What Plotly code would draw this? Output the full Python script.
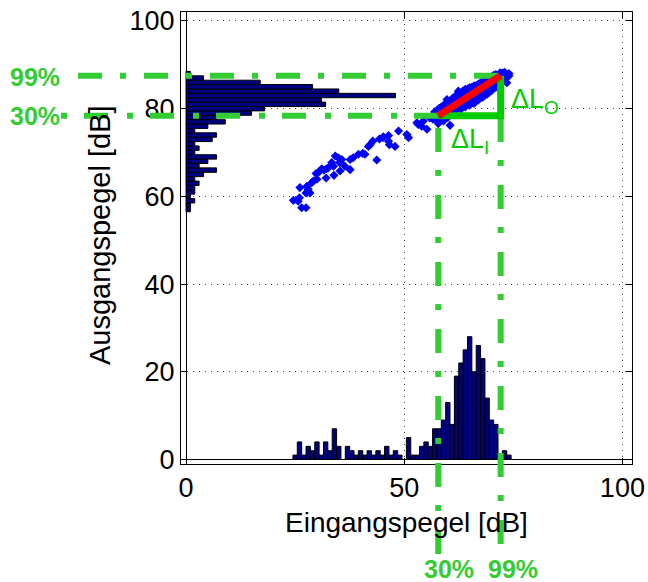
import plotly.graph_objects as go

# ---------------- data ----------------
# input-level histogram (Eingangspegel), 1 dB bins
in_levels = list(range(25, 75))
in_counts = [1, 4, 1, 3, 2, 4, 1, 4, 2, 7, 3, 0, 3, 2, 1, 2, 1, 2, 1, 2,
             1, 3, 1, 2, 1, 0, 5, 1, 1, 3, 4, 3, 7, 7, 9, 13, 8, 19, 22, 25,
             28, 20, 26, 23, 14, 9, 8, 1, 2, 1]
# output-level histogram (Ausgangspegel), 1 dB bins
out_levels = list(range(57, 89))
out_counts = [1, 1, 2, 1, 2, 2, 3, 2, 4, 7, 3, 5, 7, 2, 3, 2, 6, 7, 2, 5,
              9, 7, 15, 18, 32, 31, 48, 35, 29, 17, 4, 1]

# input/output level pairs (scatter)
scatter_in = [24.6, 25.7, 26.0, 26.5, 27.5, 26.1, 27.5, 28.0, 28.4, 27.7, 28.8, 29.2, 29.8, 30.0,
              31.1, 32.1, 32.2, 32.6, 33.4, 33.8, 33.9, 34.2, 34.9, 35.3, 35.7, 35.2, 36.4, 37.6,
              37.6, 38.3, 39.5, 40.5, 41.0, 42.2, 42.8, 43.7, 44.3, 45.2, 46.4, 46.6, 45.1, 46.4,
              48.7, 51.0, 50.6, 52.9, 54.0, 55.2, 54.4, 55.9, 60.5, 59.0, 59.8, 62.4, 47.9, 57.8,
              53.2, 41.8, 30.5, 31.6,
              56.6, 56.6, 57.0, 57.0, 57.0, 57.5, 57.5, 57.5, 58.0, 58.0, 58.0, 58.5, 58.5, 58.5,
              59.0, 59.0, 59.0, 59.0, 59.5, 59.5, 59.5, 60.0, 60.0, 60.0, 60.0, 60.5, 60.5, 60.5,
              61.0, 61.0, 61.0, 61.0, 61.5, 61.5, 61.5, 61.5, 62.0, 62.0, 62.0, 62.0, 62.5, 62.5,
              62.5, 62.5, 63.0, 63.0, 63.0, 63.0, 63.5, 63.5, 63.5, 63.5, 64.0, 64.0, 64.0, 64.0,
              64.0, 64.5, 64.5, 64.5, 64.5, 65.0, 65.0, 65.0, 65.0, 65.0, 65.5, 65.5, 65.5, 65.5,
              66.0, 66.0, 66.0, 66.0, 66.0, 66.5, 66.5, 66.5, 66.5, 67.0, 67.0, 67.0, 67.0, 67.5,
              67.5, 67.5, 67.5, 68.0, 68.0, 68.0, 68.0, 68.5, 68.5, 68.5, 68.5, 69.0, 69.0, 69.0,
              69.0, 69.5, 69.5, 69.5, 69.5, 70.0, 70.0, 70.0, 70.0, 70.5, 70.5, 70.5, 70.5, 71.0,
              71.0, 71.0, 71.0, 71.5, 71.5, 71.5, 72.0, 72.0, 72.0, 72.0, 72.5, 72.5, 72.5, 73.0,
              73.0, 73.0, 73.5, 73.5, 73.5, 74.0, 74.0]
scatter_out = [59.1, 58.9, 59.7, 57.4, 57.4, 62.0, 60.8, 61.6, 60.8, 62.3, 63.1, 63.5, 65.2, 63.9,
               66.3, 64.2, 66.3, 66.5, 67.7, 66.9, 64.8, 69.2, 68.8, 65.8, 68.4, 67.7, 66.9, 66.1,
               68.4, 68.8, 69.6, 69.8, 69.6, 71.8, 72.6, 68.3, 73.1, 73.6, 73.9, 71.8, 73.4, 72.6,
               74.9, 73.4, 74.1, 76.8, 76.0, 75.3, 77.2, 77.9, 76.2, 77.2, 82.1, 84.0, 71.4, 76.6,
               76.4, 71.4, 65.6, 66.0,
               77.6, 78.6, 77.9, 78.8, 79.3, 77.4, 78.3, 79.6, 77.8, 78.9, 80.1, 78.2, 79.3, 80.4,
               77.6, 78.7, 79.8, 80.8, 78.4, 79.5, 81.0, 78.0, 79.2, 80.3, 81.5, 78.9, 80.0, 81.2,
               79.4, 80.6, 81.8, 82.3, 79.1, 80.3, 81.5, 82.6, 79.8, 81.0, 82.2, 83.1, 80.2, 81.4,
               82.6, 83.5, 79.9, 81.1, 82.3, 83.6, 80.6, 81.8, 83.0, 84.1, 80.4, 81.5, 82.7, 83.8,
               84.4, 81.0, 82.2, 83.3, 84.5, 80.8, 81.9, 83.0, 84.1, 84.8, 81.4, 82.6, 83.7, 84.9,
               81.2, 82.3, 83.4, 84.6, 85.2, 81.8, 82.9, 84.0, 85.3, 82.0, 83.2, 84.4, 85.6, 82.5,
               83.6, 84.8, 85.9, 82.6, 83.8, 85.0, 86.2, 83.1, 84.3, 85.5, 86.6, 83.3, 84.6, 85.8,
               86.8, 83.8, 85.0, 86.2, 87.1, 84.1, 85.3, 86.5, 87.3, 84.7, 85.8, 86.9, 87.6, 84.9,
               86.1, 87.2, 87.8, 85.5, 86.6, 87.6, 85.7, 86.8, 87.9, 88.2, 86.2, 87.3, 88.1, 86.6,
               87.6, 88.3, 85.9, 87.0, 87.8, 87.5, 88.0]

# percentiles (dB)
in_p30, in_p99 = 57.8, 72.1
out_p30, out_p99 = 78.4, 87.5

x_ticks = [0, 50, 100]
y_ticks = [0, 20, 40, 60, 80, 100]

# ---------------- layout geometry / styles ----------------
W, H = 648, 582
PL, PR, PT, PB = 181, 632, 12, 464
X_RANGE = [-1.15, 102.2]
Y_RANGE = [-1.03, 102.05]
sx = (PR - PL) / (X_RANGE[1] - X_RANGE[0])
sy = (PB - PT) / (Y_RANGE[1] - Y_RANGE[0])
X2_RANGE = [X_RANGE[0] - PL / sx, X_RANGE[1] + (W - PR) / sx]
Y2_RANGE = [Y_RANGE[0] - (H - PB) / sy, Y_RANGE[1] + PT / sy]


def x_at(px):
    return X2_RANGE[0] + px / sx


def y_at(py):
    return Y2_RANGE[1] - py / sy


FONT = "Liberation Sans, Arial, sans-serif"
GREEN_D = "#33cc33"
GREEN_S = "#00cc00"
BAR_FILL = "#000080"

fig = go.Figure()

fig.add_trace(go.Bar(x=in_levels, y=in_counts, width=1, orientation="v",
                     marker=dict(color=BAR_FILL, line=dict(color="black", width=1))))
fig.add_trace(go.Bar(x=out_counts, y=out_levels, width=1, orientation="h",
                     marker=dict(color=BAR_FILL, line=dict(color="black", width=1))))
fig.add_trace(go.Scatter(x=scatter_in, y=scatter_out, mode="markers",
                         marker=dict(symbol="diamond", size=7, color="#0000ff",
                                     line=dict(width=0))))

# overlay lines (full-figure axes)
dash_h99 = "24px,18px,6px,18px"
dash_h30 = "6px,17px,24px,19px"
dash_v = "24px,19px,6px,18px"
ov = dict(xaxis="x2", yaxis="y2", mode="lines", hoverinfo="skip")
fig.add_trace(go.Scatter(x=[x_at(78), in_p99], y=[out_p99, out_p99],
                         line=dict(color=GREEN_D, width=6, dash=dash_h99), **ov))
fig.add_trace(go.Scatter(x=[x_at(61), in_p30], y=[out_p30, out_p30],
                         line=dict(color=GREEN_D, width=6, dash=dash_h30), **ov))
fig.add_trace(go.Scatter(x=[in_p30, in_p30], y=[y_at(554), out_p30],
                         line=dict(color=GREEN_D, width=6, dash=dash_v), **ov))
fig.add_trace(go.Scatter(x=[in_p99, in_p99], y=[y_at(544), out_p99],
                         line=dict(color=GREEN_D, width=6, dash=dash_v), **ov))
fig.add_trace(go.Scatter(x=[in_p30, in_p99, in_p99], y=[out_p30, out_p30, out_p99],
                         line=dict(color=GREEN_S, width=7), **ov))
fig.add_trace(go.Scatter(x=[in_p30, in_p99], y=[out_p30, out_p99],
                         line=dict(color="#ff0000", width=7), **ov))

axis_common = dict(showline=True, linecolor="black", linewidth=1, mirror="ticks",
                   ticks="inside", ticklen=6, tickcolor="black", tickwidth=1,
                   showgrid=True, gridcolor="#444444", gridwidth=1, griddash="1px,5px",
                   zeroline=True, zerolinecolor="black", zerolinewidth=1,
                   tickfont=dict(family=FONT, size=27, color="black"),
                   automargin=False, fixedrange=True)

fig.update_layout(
    width=W, height=H,
    margin=dict(l=0, r=0, t=0, b=0),
    paper_bgcolor="white", plot_bgcolor="rgba(0,0,0,0)",
    showlegend=False, barmode="overlay",
    font=dict(family=FONT, color="black"),
    xaxis=dict(domain=[PL / W, PR / W], range=X_RANGE, tickvals=x_ticks, anchor="y",
               **axis_common),
    yaxis=dict(domain=[1 - PB / H, 1 - PT / H], range=Y_RANGE, tickvals=y_ticks, anchor="x",
               **axis_common),
    xaxis2=dict(domain=[0, 1], range=X2_RANGE, visible=False, anchor="y2", fixedrange=True),
    yaxis2=dict(domain=[0, 1], range=Y2_RANGE, visible=False, anchor="x2", fixedrange=True),
)

ann = []
ann.append(dict(text="Eingangspegel [dB]", x=(PL + PR) / 2 / W, y=1 - 522 / H,
                font=dict(size=28)))
ann.append(dict(text="Ausgangspegel [dB]", x=100 / W, y=1 - 235 / H, textangle=-90,
                font=dict(size=29)))
for txt, px, py in [("99%", 35, 77), ("30%", 35, 116), ("30%", 449, 569), ("99%", 513, 569)]:
    ann.append(dict(text="<b>" + txt + "</b>", x=px / W, y=1 - py / H,
                    font=dict(size=25, color=GREEN_D)))
ann.append(dict(text="ΔL<sub>O</sub>", x=509 / W, y=1 - 101 / H, xanchor="left",
                font=dict(size=27, color=GREEN_S)))
ann.append(dict(text="ΔL<sub>I</sub>", x=449 / W, y=1 - 141 / H, xanchor="left",
                font=dict(size=27, color=GREEN_S)))
for a in ann:
    a.setdefault("xanchor", "center")
    a.update(xref="paper", yref="paper", yanchor="middle", showarrow=False)
    a["font"].setdefault("family", FONT)
    a["font"].setdefault("color", "black")
fig.update_layout(annotations=ann)

fig.write_html("out.html", config={"displayModeBar": False},
               post_script="document.body.style.margin='0px';document.body.style.padding='0px';"
                           "document.documentElement.style.overflow='hidden';")
